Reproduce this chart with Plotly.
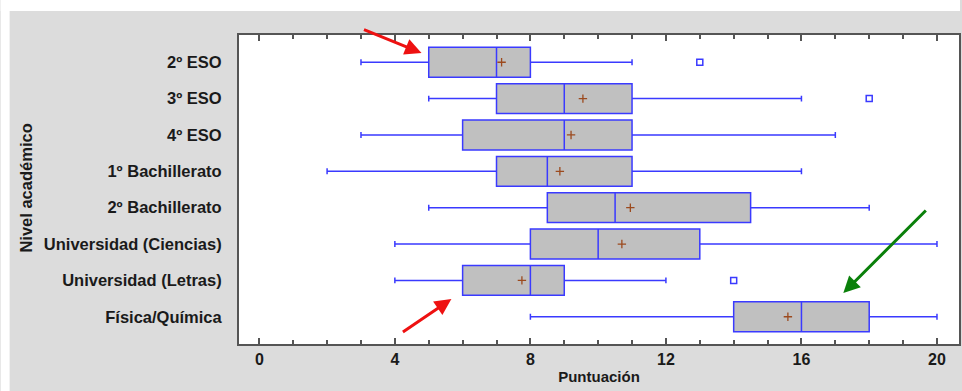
import plotly.graph_objects as go

categories = ["2º ESO", "3º ESO", "4º ESO", "1º Bachillerato", "2º Bachillerato",
              "Universidad (Ciencias)", "Universidad (Letras)", "Física/Química"]
lower_whisker = [3, 5, 3, 2, 5, 4, 4, 8]
q1_values = [5, 7, 6, 7, 8.5, 8, 6, 14]
median_values = [7, 9, 9, 8.5, 10.5, 10, 8, 16]
q3_values = [8, 11, 11, 11, 14.5, 13, 9, 18]
upper_whisker = [11, 16, 17, 16, 18, 20, 12, 20]
mean_values = [7.15, 9.55, 9.2, 8.87, 10.95, 10.7, 7.75, 15.6]
outlier_categories = ["2º ESO", "3º ESO", "Universidad (Letras)"]
outlier_values = [13, 18, 14]
x_tick_values = [0, 4, 8, 12, 16, 20]

W, H = 962, 391
L, R, T, B = 239, 961, 35, 344

fig = go.Figure()
fig.add_trace(go.Box(
    y=categories, q1=q1_values, median=median_values, q3=q3_values,
    lowerfence=lower_whisker, upperfence=upper_whisker,
    orientation="h", fillcolor="#c0c0c0",
    line=dict(color="#3a3aff", width=1.5),
    whiskerwidth=0.2, width=0.82, boxpoints=False, showlegend=False,
))
fig.add_trace(go.Scatter(
    x=mean_values, y=categories, mode="markers",
    marker=dict(symbol="cross-thin", size=6, line=dict(color="#9c4a1e", width=1.3)),
    showlegend=False,
))
fig.add_trace(go.Scatter(
    x=outlier_values, y=outlier_categories, mode="markers",
    marker=dict(symbol="square-open", size=6, color="#3a3aff", line=dict(width=1.5)),
    showlegend=False,
))

def px2paper(px, py):
    return (px - L) / (R - L), (B - py) / (B - T)

shapes = []
x0, _ = px2paper(0, 0)
x1, _ = px2paper(W, 0)
_, ytop = px2paper(0, 0)
_, ystrip = px2paper(0, 11)
_, ybot = px2paper(0, H)
xl, _ = px2paper(9, 0)
shapes.append(dict(type="rect", xref="paper", yref="paper", x0=x0, x1=x1, y0=ystrip, y1=ytop,
                   fillcolor="white", line=dict(width=0), layer="below"))
shapes.append(dict(type="rect", xref="paper", yref="paper", x0=x0, x1=xl, y0=ybot, y1=ytop,
                   fillcolor="white", line=dict(width=0), layer="below"))

annotations = []
def arrow(head, tail, color):
    hx, hy = px2paper(*head)
    annotations.append(dict(
        x=hx, y=hy, xref="paper", yref="paper", ax=tail[0] - head[0], ay=tail[1] - head[1],
        axref="pixel", ayref="pixel", showarrow=True, arrowhead=2, arrowsize=1.1,
        arrowwidth=3, arrowcolor=color, text="",
    ))
arrow((422, 53), (363, 29), "#ee1111")
arrow((452, 299), (402, 333), "#ee1111")
arrow((845, 293), (929, 209), "#0a800a")

tx, ty = px2paper(25, 188)
annotations.append(dict(x=tx, y=ty, xref="paper", yref="paper", text="Nivel académico",
                        textangle=-90, showarrow=False, xanchor="center", yanchor="middle",
                        font=dict(family="Liberation Sans, Arial", size=16.5, color="#1a1a1a", weight="bold")))

fig.update_layout(
    width=W, height=H,
    margin=dict(l=L, r=W - R, t=T, b=H - B, pad=0),
    paper_bgcolor="#dcdcdc", plot_bgcolor="white",
    shapes=shapes, annotations=annotations,
    font=dict(family="Liberation Sans, Arial", color="#1a1a1a"),
    xaxis=dict(
        range=[-0.6, 20.65], tickvals=x_tick_values, ticks="inside", ticklen=6,
        tickcolor="#555", tickwidth=1.5, showgrid=False, zeroline=False,
        showline=True, linecolor="#555", linewidth=2, mirror="ticks",
        minor=dict(dtick=1, ticks="inside", ticklen=4, tickcolor="#555", tickwidth=1.5),
        tickfont=dict(size=16, weight="bold", color="#1a1a1a"),
        title=dict(text="Puntuación", standoff=4, font=dict(size=15, weight="bold", color="#1a1a1a")),
    ),
    yaxis=dict(
        categoryorder="array", categoryarray=categories, autorange=False,
        range=[7.75, -0.75], showgrid=False, zeroline=False, ticks="",
        showline=True, linecolor="#555", linewidth=2, mirror=True,
        ticklabelstandoff=12,
        tickfont=dict(size=16.5, weight="bold", color="#1a1a1a"),
    ),
)

fig.write_html("out.html")
